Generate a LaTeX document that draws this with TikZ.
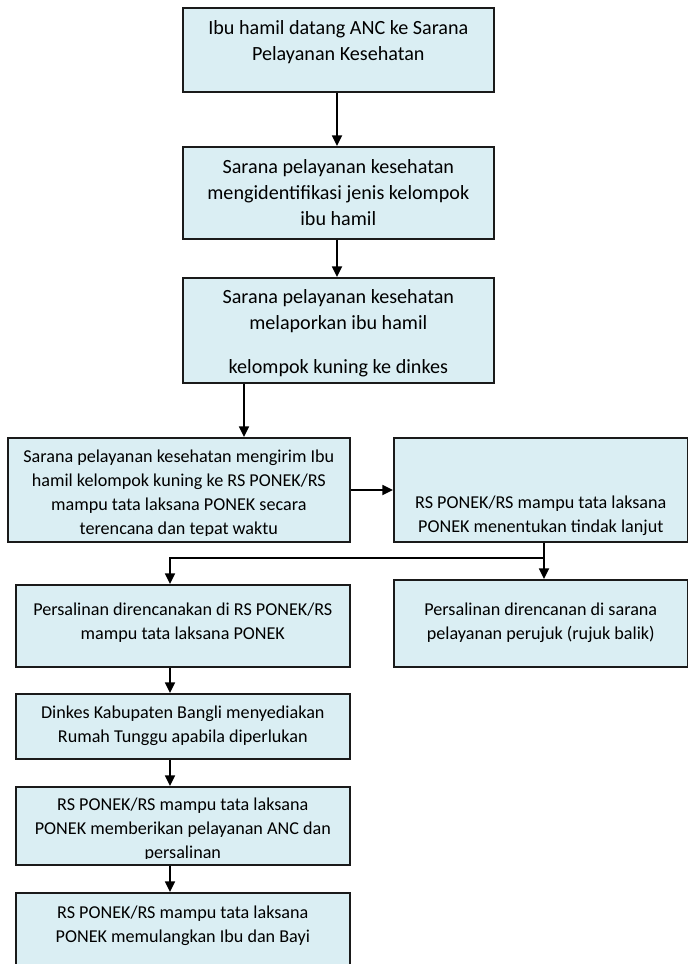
\documentclass[tikz,border=0pt]{standalone}
\usepackage{fontspec}
\setmainfont{Carlito}
\usetikzlibrary{arrows.meta,calc}
\definecolor{boxfill}{HTML}{DAEEF3}
\definecolor{boxline}{HTML}{1A1A1A}
\tikzset{
  box/.style={draw=boxline, line width=1.2pt, fill=boxfill, inner sep=0pt,
              anchor=north west, rectangle},
  bigtext/.style={align=center, inner sep=0pt, anchor=base,
                  font=\fontsize{15.1}{19.5}\selectfont},
  smalltext/.style={align=center, inner sep=0pt, anchor=base,
                  font=\fontsize{13.6}{17.8}\selectfont},
  flow/.style={-{Triangle[length=8pt,width=7.5pt]}, line width=1.3pt, draw=black},
  plain/.style={line width=1.3pt, draw=black}
}
% #1 name, #2 x, #3 y (top-left, px), #4 width, #5 height
\newcommand\flowbox[5]{%
  \node[box, minimum width=#4*0.75pt, minimum height=#5*0.75pt] (#1) at (#2,#3) {};}
% #1 box name, #2 text node name, #3 style, #4 baseline y of the last line (px), #5 text
% the text is cut off a little above the lower border, as in a text frame
\newcommand\boxlabel[5]{%
  \begin{scope}
    \clip (#1.south west) ++(0,-7) rectangle (#1.north east);
    \node[#3] (#2) at (#1.north |- 0,#4) {#5};
  \end{scope}}
\begin{document}
\begin{tikzpicture}[x=0.75pt,y=-0.75pt]
  \useasboundingbox (0,0) rectangle (688,964);

  % main column
  \flowbox{b1}{182}{7}{311}{84}
  \boxlabel{b1}{t1}{bigtext}{60}{Ibu hamil datang ANC ke Sarana\\Pelayanan Kesehatan}
  \flowbox{b2}{182}{146}{311}{92}
  \boxlabel{b2}{t2}{bigtext}{225}{Sarana pelayanan kesehatan\\mengidentifikasi jenis kelompok\\ibu hamil}
  \flowbox{b3}{182}{277}{311}{105}
  \boxlabel{b3}{t3}{bigtext}{373}{Sarana pelayanan kesehatan\\melaporkan ibu hamil\\[13.5pt]kelompok kuning ke dinkes}

  % referral row
  \flowbox{b4}{7}{437}{342}{104}
  \boxlabel{b4}{t4}{smalltext}{534}{Sarana pelayanan kesehatan mengirim Ibu\\hamil kelompok kuning ke RS PONEK/RS\\mampu tata laksana PONEK secara\\terencana dan tepat waktu}
  \flowbox{b5}{393}{437}{294}{104}
  \boxlabel{b5}{t5}{smalltext}{532}{RS PONEK/RS mampu tata laksana\\PONEK menentukan tindak lanjut}

  % decision row
  \flowbox{b6}{15}{584}{334}{82}
  \boxlabel{b6}{t6}{smalltext}{639}{Persalinan direncanakan di RS PONEK/RS\\mampu tata laksana PONEK}
  \flowbox{b7}{393}{579}{294}{87}
  \boxlabel{b7}{t7}{smalltext}{639}{Persalinan direncanan di sarana\\pelayanan perujuk (rujuk balik)}

  % lower column
  \flowbox{b8}{15}{693}{334}{65}
  \boxlabel{b8}{t8}{smalltext}{742}{Dinkes Kabupaten Bangli menyediakan\\Rumah Tunggu apabila diperlukan}
  \flowbox{b9}{15}{786}{334}{78}
  \boxlabel{b9}{t9}{smalltext}{858}{RS PONEK/RS mampu tata laksana\\PONEK memberikan pelayanan ANC dan\\persalinan}
  \flowbox{b10}{15}{892}{334}{100}
  \boxlabel{b10}{t10}{smalltext}{942}{RS PONEK/RS mampu tata laksana\\PONEK memulangkan Ibu dan Bayi}

  % connectors
  \draw[flow] (b1.south -| 337,0) -- (b2.north -| 337,0);
  \draw[flow] (b2.south -| 337,0) -- (b3.north -| 337,0);
  \draw[flow] (b3.south -| 244,0) -- (b4.north -| 244,0);
  \draw[flow] (b4.east |- 0,490) -- (b5.west |- 0,490);
  \coordinate (split) at (544,558);
  \draw[plain] (b5.south -| split) -- (split);
  \draw[flow] (split) -| (b6.north -| 170,0);
  \draw[flow] (split) -- (b7.north -| split);
  \draw[flow] (b6.south -| 170,0) -- (b8.north -| 170,0);
  \draw[flow] (b8.south -| 170,0) -- (b9.north -| 170,0);
  \draw[flow] (b9.south -| 170,0) -- (b10.north -| 170,0);
\end{tikzpicture}
\end{document}
